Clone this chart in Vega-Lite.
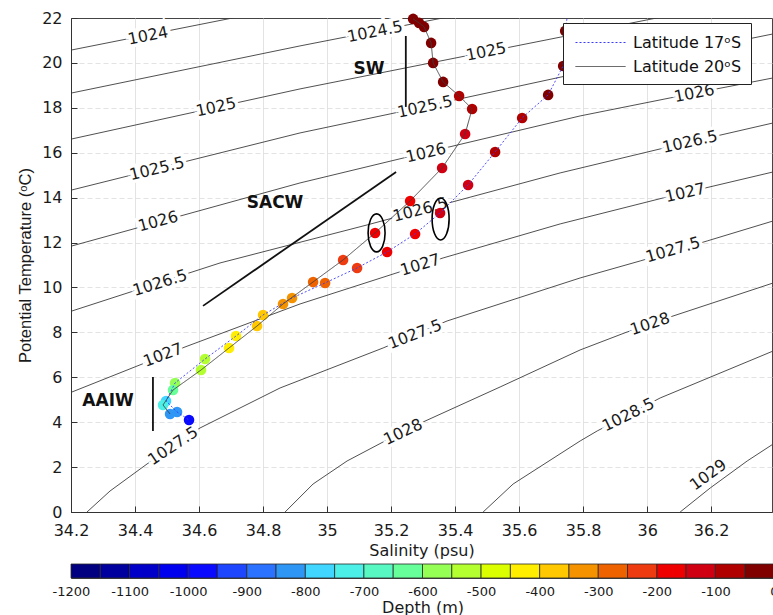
{
  "$schema": "https://vega.github.io/schema/vega-lite/v6.json",
  "autosize": {"type": "pad"},
  "padding": {"left": 17, "top": 9, "right": 0, "bottom": 0},
  "background": "white",
  "config": {
    "font": "DejaVu Sans",
    "view": {"stroke": "#444444", "strokeWidth": 1},
    "axis": {
      "labelFont": "DejaVu Sans",
      "labelFontSize": 16,
      "labelColor": "#1a1a1a",
      "titleFont": "DejaVu Sans",
      "titleFontSize": 16,
      "titleFontWeight": "normal",
      "titleColor": "#1a1a1a",
      "domainColor": "#333333",
      "tickColor": "#333333",
      "gridColor": "#dcdcdc",
      "gridWidth": 0.8
    }
  },
  "datasets": {
    "isopycnals": [
      {"sigma": 1024, "S": 34.2031, "T": 20.579},
      {"sigma": 1024, "S": 34.7375, "T": 22.094},
      {"sigma": 1024.5, "S": 34.2031, "T": 18.664},
      {"sigma": 1024.5, "S": 34.9156, "T": 20.757},
      {"sigma": 1024.5, "S": 35.3625, "T": 22.004},
      {"sigma": 1024.5, "S": 35.3938, "T": 22.094},
      {"sigma": 1025, "S": 34.2031, "T": 16.615},
      {"sigma": 1025, "S": 34.9156, "T": 18.842},
      {"sigma": 1025, "S": 36.0625, "T": 22.094},
      {"sigma": 1025.5, "S": 34.2031, "T": 14.343},
      {"sigma": 1025.5, "S": 34.9156, "T": 16.882},
      {"sigma": 1025.5, "S": 35.1969, "T": 17.728},
      {"sigma": 1025.5, "S": 35.7906, "T": 19.555},
      {"sigma": 1025.5, "S": 36.3938, "T": 21.292},
      {"sigma": 1025.5, "S": 36.4469, "T": 21.425},
      {"sigma": 1026, "S": 34.2031, "T": 11.849},
      {"sigma": 1026, "S": 34.9156, "T": 14.655},
      {"sigma": 1026, "S": 35.3688, "T": 16.214},
      {"sigma": 1026, "S": 35.7906, "T": 17.639},
      {"sigma": 1026, "S": 36.0719, "T": 18.441},
      {"sigma": 1026, "S": 36.3938, "T": 19.332},
      {"sigma": 1026, "S": 36.4469, "T": 19.465},
      {"sigma": 1026.5, "S": 34.2031, "T": 8.953},
      {"sigma": 1026.5, "S": 34.6656, "T": 11.091},
      {"sigma": 1026.5, "S": 35.125, "T": 12.784},
      {"sigma": 1026.5, "S": 35.7281, "T": 15.1},
      {"sigma": 1026.5, "S": 36.0406, "T": 16.169},
      {"sigma": 1026.5, "S": 36.3938, "T": 17.327},
      {"sigma": 1026.5, "S": 36.4469, "T": 17.506},
      {"sigma": 1027, "S": 34.2031, "T": 5.345},
      {"sigma": 1027, "S": 34.5563, "T": 7.35},
      {"sigma": 1027, "S": 34.9156, "T": 9.265},
      {"sigma": 1027, "S": 35.3625, "T": 11.314},
      {"sigma": 1027, "S": 35.7281, "T": 12.829},
      {"sigma": 1027, "S": 36.05, "T": 13.987},
      {"sigma": 1027, "S": 36.3938, "T": 15.145},
      {"sigma": 1027, "S": 36.4469, "T": 15.323},
      {"sigma": 1027.5, "S": 34.2281, "T": -0.401},
      {"sigma": 1027.5, "S": 34.25, "T": 0},
      {"sigma": 1027.5, "S": 34.3219, "T": 0.935},
      {"sigma": 1027.5, "S": 34.4375, "T": 2.138},
      {"sigma": 1027.5, "S": 34.6031, "T": 3.742},
      {"sigma": 1027.5, "S": 34.8531, "T": 5.523},
      {"sigma": 1027.5, "S": 35.175, "T": 7.305},
      {"sigma": 1027.5, "S": 35.375, "T": 8.508},
      {"sigma": 1027.5, "S": 35.7906, "T": 10.423},
      {"sigma": 1027.5, "S": 35.9781, "T": 11.18},
      {"sigma": 1027.5, "S": 36.1875, "T": 12.071},
      {"sigma": 1027.5, "S": 36.3938, "T": 12.962},
      {"sigma": 1027.5, "S": 36.4469, "T": 13.185},
      {"sigma": 1028, "S": 34.8531, "T": -0.312},
      {"sigma": 1028, "S": 34.8688, "T": 0},
      {"sigma": 1028, "S": 34.9563, "T": 1.247},
      {"sigma": 1028, "S": 35.0625, "T": 2.272},
      {"sigma": 1028, "S": 35.175, "T": 3.118},
      {"sigma": 1028, "S": 35.3, "T": 4.009},
      {"sigma": 1028, "S": 35.5406, "T": 5.568},
      {"sigma": 1028, "S": 35.7906, "T": 7.216},
      {"sigma": 1028, "S": 35.9375, "T": 8.018},
      {"sigma": 1028, "S": 36.0719, "T": 8.686},
      {"sigma": 1028, "S": 36.3938, "T": 10.2},
      {"sigma": 1028, "S": 36.4469, "T": 10.423},
      {"sigma": 1028.5, "S": 35.4719, "T": -0.312},
      {"sigma": 1028.5, "S": 35.4875, "T": 0},
      {"sigma": 1028.5, "S": 35.5813, "T": 1.247},
      {"sigma": 1028.5, "S": 35.7906, "T": 3.163},
      {"sigma": 1028.5, "S": 35.8438, "T": 3.608},
      {"sigma": 1028.5, "S": 36.0406, "T": 5.078},
      {"sigma": 1028.5, "S": 36.3938, "T": 7.171},
      {"sigma": 1028.5, "S": 36.4469, "T": 7.483},
      {"sigma": 1029, "S": 36.0875, "T": -0.312},
      {"sigma": 1029, "S": 36.1031, "T": 0},
      {"sigma": 1029, "S": 36.1969, "T": 1.069},
      {"sigma": 1029, "S": 36.3125, "T": 2.272},
      {"sigma": 1029, "S": 36.3938, "T": 3.029},
      {"sigma": 1029, "S": 36.4469, "T": 3.519}
    ],
    "isopycnalLabels": [
      {"text": "1024", "S": 34.4406, "T": 21.2, "slope": 2.84},
      {"text": "1024.5", "S": 35.15, "T": 21.38, "slope": 2.85},
      {"text": "1025", "S": 34.653, "T": 18.02, "slope": 3.12},
      {"text": "1025", "S": 35.497, "T": 20.49, "slope": 2.85},
      {"text": "1025.5", "S": 34.469, "T": 15.28, "slope": 3.56},
      {"text": "1025.5", "S": 35.306, "T": 18.04, "slope": 3.08},
      {"text": "1026", "S": 34.472, "T": 12.94, "slope": 3.93},
      {"text": "1026", "S": 35.309, "T": 15.99, "slope": 3.44},
      {"text": "1026", "S": 36.147, "T": 18.64, "slope": 2.79},
      {"text": "1026.5", "S": 34.478, "T": 10.2, "slope": 4.62},
      {"text": "1026.5", "S": 35.291, "T": 13.45, "slope": 3.83},
      {"text": "1026.5", "S": 36.134, "T": 16.48, "slope": 3.28},
      {"text": "1027", "S": 34.4875, "T": 6.99, "slope": 5.7},
      {"text": "1027", "S": 35.291, "T": 11.0, "slope": 4.56},
      {"text": "1027", "S": 36.119, "T": 14.21, "slope": 3.36},
      {"text": "1027.5", "S": 34.519, "T": 2.94, "slope": 9.69},
      {"text": "1027.5", "S": 35.275, "T": 7.91, "slope": 5.84},
      {"text": "1027.5", "S": 36.081, "T": 11.67, "slope": 4.28},
      {"text": "1028", "S": 35.2375, "T": 3.56, "slope": 7.13},
      {"text": "1028", "S": 36.009, "T": 8.37, "slope": 4.99},
      {"text": "1028.5", "S": 35.941, "T": 4.32, "slope": 7.41},
      {"text": "1029", "S": 36.191, "T": 1.65, "slope": 10.41}
    ],
    "profiles": [
      {"lat": "Latitude 17ᵒS", "d": 0, "S": 35.7531, "T": 22.316},
      {"lat": "Latitude 17ᵒS", "d": -10, "S": 35.7438, "T": 21.425},
      {"lat": "Latitude 17ᵒS", "d": -30, "S": 35.7375, "T": 19.866},
      {"lat": "Latitude 17ᵒS", "d": -50, "S": 35.6906, "T": 18.575},
      {"lat": "Latitude 17ᵒS", "d": -75, "S": 35.6094, "T": 17.55},
      {"lat": "Latitude 17ᵒS", "d": -100, "S": 35.525, "T": 16.036},
      {"lat": "Latitude 17ᵒS", "d": -125, "S": 35.4406, "T": 14.566},
      {"lat": "Latitude 17ᵒS", "d": -150, "S": 35.3531, "T": 13.318},
      {"lat": "Latitude 17ᵒS", "d": -175, "S": 35.275, "T": 12.383},
      {"lat": "Latitude 17ᵒS", "d": -200, "S": 35.1875, "T": 11.581},
      {"lat": "Latitude 17ᵒS", "d": -250, "S": 35.0938, "T": 10.869},
      {"lat": "Latitude 17ᵒS", "d": -300, "S": 34.9938, "T": 10.2},
      {"lat": "Latitude 17ᵒS", "d": -350, "S": 34.8906, "T": 9.532},
      {"lat": "Latitude 17ᵒS", "d": -400, "S": 34.8, "T": 8.775},
      {"lat": "Latitude 17ᵒS", "d": -450, "S": 34.7156, "T": 7.84},
      {"lat": "Latitude 17ᵒS", "d": -525, "S": 34.6188, "T": 6.815},
      {"lat": "Latitude 17ᵒS", "d": -600, "S": 34.525, "T": 5.746},
      {"lat": "Latitude 17ᵒS", "d": -760, "S": 34.4969, "T": 4.944},
      {"lat": "Latitude 17ᵒS", "d": -850, "S": 34.5313, "T": 4.454},
      {"lat": "Latitude 17ᵒS", "d": -1000, "S": 34.5688, "T": 4.098},
      {"lat": "Latitude 20ᵒS", "d": 0, "S": 35.2688, "T": 21.96},
      {"lat": "Latitude 20ᵒS", "d": -10, "S": 35.2875, "T": 21.782},
      {"lat": "Latitude 20ᵒS", "d": -20, "S": 35.3031, "T": 21.604},
      {"lat": "Latitude 20ᵒS", "d": -30, "S": 35.325, "T": 20.891},
      {"lat": "Latitude 20ᵒS", "d": -40, "S": 35.3313, "T": 20.0},
      {"lat": "Latitude 20ᵒS", "d": -50, "S": 35.3625, "T": 19.154},
      {"lat": "Latitude 20ᵒS", "d": -75, "S": 35.4125, "T": 18.53},
      {"lat": "Latitude 20ᵒS", "d": -100, "S": 35.4531, "T": 17.951},
      {"lat": "Latitude 20ᵒS", "d": -125, "S": 35.4313, "T": 16.837},
      {"lat": "Latitude 20ᵒS", "d": -150, "S": 35.3594, "T": 15.323},
      {"lat": "Latitude 20ᵒS", "d": -175, "S": 35.2594, "T": 13.853},
      {"lat": "Latitude 20ᵒS", "d": -200, "S": 35.15, "T": 12.428},
      {"lat": "Latitude 20ᵒS", "d": -250, "S": 35.05, "T": 11.225},
      {"lat": "Latitude 20ᵒS", "d": -300, "S": 34.9563, "T": 10.245},
      {"lat": "Latitude 20ᵒS", "d": -350, "S": 34.8625, "T": 9.265},
      {"lat": "Latitude 20ᵒS", "d": -400, "S": 34.7813, "T": 8.285},
      {"lat": "Latitude 20ᵒS", "d": -450, "S": 34.6938, "T": 7.305},
      {"lat": "Latitude 20ᵒS", "d": -525, "S": 34.6063, "T": 6.325},
      {"lat": "Latitude 20ᵒS", "d": -620, "S": 34.5188, "T": 5.434},
      {"lat": "Latitude 20ᵒS", "d": -730, "S": 34.4875, "T": 4.766},
      {"lat": "Latitude 20ᵒS", "d": -850, "S": 34.5094, "T": 4.365}
    ],
    "waterMasses": [
      {"name": "SW", "S": 35.131, "T": 19.73, "S0": 35.246, "T0": 21.2, "S1": 35.246, "T1": 18.04},
      {"name": "SACW", "S": 34.8375, "T": 13.76, "S0": 34.6125, "T0": 9.18, "S1": 35.2156, "T1": 15.14},
      {"name": "AAIW", "S": 34.3156, "T": 4.94, "S0": 34.456, "T0": 6.01, "S1": 34.456, "T1": 3.61}
    ],
    "loops": [
      {"tag": "a", "S": 35.1547, "T": 12.43},
      {"tag": "b", "S": 35.3547, "T": 13.05}
    ],
    "depthBins": [
      {"lo": -1200, "hi": -1150}, {"lo": -1150, "hi": -1100}, {"lo": -1100, "hi": -1050},
      {"lo": -1050, "hi": -1000}, {"lo": -1000, "hi": -950}, {"lo": -950, "hi": -900},
      {"lo": -900, "hi": -850}, {"lo": -850, "hi": -800}, {"lo": -800, "hi": -750},
      {"lo": -750, "hi": -700}, {"lo": -700, "hi": -650}, {"lo": -650, "hi": -600},
      {"lo": -600, "hi": -550}, {"lo": -550, "hi": -500}, {"lo": -500, "hi": -450},
      {"lo": -450, "hi": -400}, {"lo": -400, "hi": -350}, {"lo": -350, "hi": -300},
      {"lo": -300, "hi": -250}, {"lo": -250, "hi": -200}, {"lo": -200, "hi": -150},
      {"lo": -150, "hi": -100}, {"lo": -100, "hi": -50}, {"lo": -50, "hi": 0}
    ]
  },
  "bounds": "flush",
  "spacing": 52,
  "vconcat": [
    {
      "width": 701,
      "height": 494,
      "layer": [
        {
          "data": {"name": "isopycnals"},
          "mark": {"type": "line", "clip": true, "color": "#3c3c3c", "strokeWidth": 0.9},
          "encoding": {
            "x": {
              "field": "S", "type": "quantitative",
              "scale": {"domain": [34.2, 36.39], "nice": false, "zero": false},
              "axis": {
                "title": "Salinity (psu)",
                "values": [34.2, 34.4, 34.6, 34.8, 35, 35.2, 35.4, 35.6, 35.8, 36, 36.2],
                "format": "~g",
                "tickSize": -6,
                "labelPadding": 16,
                "labelFlush": false,
                "titlePadding": 4,
                "grid": true,
                "gridDash": []
              }
            },
            "y": {
              "field": "T", "type": "quantitative",
              "scale": {"domain": [0, 22], "nice": false, "zero": false},
              "axis": {
                "title": "Potential Temperature (ᵒC)",
                "titleFont": "Liberation Sans",
                "titleFontSize": 16.5,
                "values": [0, 2, 4, 6, 8, 10, 12, 14, 16, 18, 20, 22],
                "tickSize": -6,
                "labelPadding": 15,
                "labelFlush": false,
                "titlePadding": 8,
                "grid": true,
                "gridDash": [5, 3],
                "gridOpacity": {"condition": {"test": "datum.value == 22 || datum.value == 0", "value": 0}, "value": 1}
              }
            },
            "detail": {"field": "sigma", "type": "nominal"}
          }
        },
        {
          "data": {"name": "isopycnalLabels"},
          "mark": {"type": "text", "fontSize": 16, "align": "center", "baseline": "middle", "fill": "white", "stroke": "white", "strokeWidth": 7},
          "encoding": {
            "x": {"field": "S", "type": "quantitative"},
            "y": {"field": "T", "type": "quantitative"},
            "text": {"field": "text"},
            "angle": {"field": "slope", "type": "quantitative", "scale": {"domain": [2.79, 10.41], "range": [-11.1, -36.1], "zero": false, "nice": false}, "legend": null}
          }
        },
        {
          "data": {"name": "isopycnalLabels"},
          "mark": {"type": "text", "fontSize": 16, "align": "center", "baseline": "middle", "fill": "#1a1a1a"},
          "encoding": {
            "x": {"field": "S", "type": "quantitative"},
            "y": {"field": "T", "type": "quantitative"},
            "text": {"field": "text"},
            "angle": {"field": "slope", "type": "quantitative", "scale": {"domain": [2.79, 10.41], "range": [-11.1, -36.1], "zero": false, "nice": false}, "legend": null}
          }
        },
        {
          "data": {"name": "waterMasses"},
          "mark": {"type": "rule", "stroke": "#111111", "strokeWidth": 1.8},
          "encoding": {
            "x": {"field": "S0", "type": "quantitative"},
            "y": {"field": "T0", "type": "quantitative"},
            "x2": {"field": "S1"},
            "y2": {"field": "T1"}
          }
        },
        {
          "data": {"name": "waterMasses"},
          "mark": {"type": "text", "fontSize": 17, "fontWeight": "bold", "align": "center", "baseline": "middle", "fill": "#111111"},
          "encoding": {
            "x": {"field": "S", "type": "quantitative"},
            "y": {"field": "T", "type": "quantitative"},
            "text": {"field": "name"}
          }
        },
        {
          "data": {"name": "profiles"},
          "transform": [{"filter": "datum.T <= 22.05"}],
          "mark": {"type": "circle", "size": 112, "opacity": 1},
          "encoding": {
            "x": {"field": "S", "type": "quantitative"},
            "y": {"field": "T", "type": "quantitative"},
            "fill": {
              "field": "d", "type": "quantitative",
              "scale": {
                "type": "quantize", "domain": [-1200, 0], "nice": false, "zero": false,
                "range": ["#000080", "#00009e", "#0000c8", "#0000ee", "#0a0aff", "#1e46ff", "#2a72ff", "#2e96f5", "#40d6ff", "#4cf0e6", "#58f8c2", "#66ff99", "#96ff55", "#b4ff30", "#dcff00", "#ffee00", "#ffc800", "#f59200", "#ef6200", "#ee3c10", "#ee0000", "#d00012", "#b00000", "#800000"]
              },
              "legend": null
            }
          }
        },
        {
          "data": {"name": "profiles"},
          "mark": {"type": "line", "clip": true, "strokeWidth": 0.9},
          "encoding": {
            "x": {"field": "S", "type": "quantitative"},
            "y": {"field": "T", "type": "quantitative"},
            "order": {"field": "d", "type": "quantitative", "sort": "descending"},
            "stroke": {
              "field": "lat", "type": "nominal",
              "scale": {"domain": ["Latitude 17ᵒS", "Latitude 20ᵒS"], "range": ["#3a3aff", "#3d3d3d"]},
              "legend": {
                "title": null, "orient": "none", "legendX": 492, "legendY": 5,
                "symbolType": "M-2.5,0H2.5", "symbolSize": 400, "symbolStrokeWidth": 1, "symbolOffset": 18,
                "labelFont": "DejaVu Sans", "labelFontSize": 16, "labelColor": "#111111", "labelOffset": 22,
                "strokeColor": "#222222", "fillColor": "white", "padding": 9, "rowPadding": 5,
                "encode": {
                  "symbols": {
                    "update": {
                      "stroke": {"signal": "datum.value == 'Latitude 17ᵒS' ? '#3a3aff' : '#3d3d3d'"},
                      "strokeDash": {"signal": "datum.value == 'Latitude 17ᵒS' ? [2, 2] : [1, 0]"}
                    }
                  }
                }
              }
            },
            "strokeDash": {
              "field": "lat", "type": "nominal",
              "scale": {"domain": ["Latitude 17ᵒS", "Latitude 20ᵒS"], "range": [[2, 2], [1, 0]]},
              "legend": null
            }
          }
        },
        {
          "data": {"name": "loops"},
          "transform": [{"filter": "datum.tag == 'a'"}],
          "mark": {"type": "point", "shape": "M0,-1A0.447,1,0,1,1,0,1A0.447,1,0,1,1,0,-1Z", "size": 1444, "filled": false, "stroke": "#000000", "strokeWidth": 1.6, "opacity": 1},
          "encoding": {
            "x": {"field": "S", "type": "quantitative"},
            "y": {"field": "T", "type": "quantitative"}
          }
        },
        {
          "data": {"name": "loops"},
          "transform": [{"filter": "datum.tag == 'b'"}],
          "mark": {"type": "point", "shape": "M0,-1A0.405,1,0,1,1,0,1A0.405,1,0,1,1,0,-1Z", "size": 1764, "filled": false, "stroke": "#000000", "strokeWidth": 1.6, "opacity": 1},
          "encoding": {
            "x": {"field": "S", "type": "quantitative"},
            "y": {"field": "T", "type": "quantitative"}
          }
        }
      ]
    },
    {
      "width": 703,
      "height": 14,
      "data": {"name": "depthBins"},
      "mark": {"type": "rect", "stroke": "#2a2a2a", "strokeWidth": 0.8},
      "encoding": {
        "x": {
          "field": "lo", "type": "quantitative",
          "scale": {"domain": [-1200, 0], "nice": false, "zero": false},
          "axis": {
            "title": "Depth (m)",
            "values": [-1200, -1100, -1000, -900, -800, -700, -600, -500, -400, -300, -200, -100, 0],
            "labelExpr": "'' + datum.value",
            "labelFontSize": 13,
            "labelPadding": 7,
            "labelFlush": false,
            "titlePadding": 1,
            "ticks": false,
            "domain": false,
            "grid": false
          }
        },
        "x2": {"field": "hi"},
        "fill": {
          "field": "lo", "type": "quantitative",
          "scale": {
            "type": "quantize", "domain": [-1200, 0], "nice": false, "zero": false,
            "range": ["#000080", "#00009e", "#0000c8", "#0000ee", "#0a0aff", "#1e46ff", "#2a72ff", "#2e96f5", "#40d6ff", "#4cf0e6", "#58f8c2", "#66ff99", "#96ff55", "#b4ff30", "#dcff00", "#ffee00", "#ffc800", "#f59200", "#ef6200", "#ee3c10", "#ee0000", "#d00012", "#b00000", "#800000"]
          },
          "legend": null
        }
      }
    }
  ]
}
